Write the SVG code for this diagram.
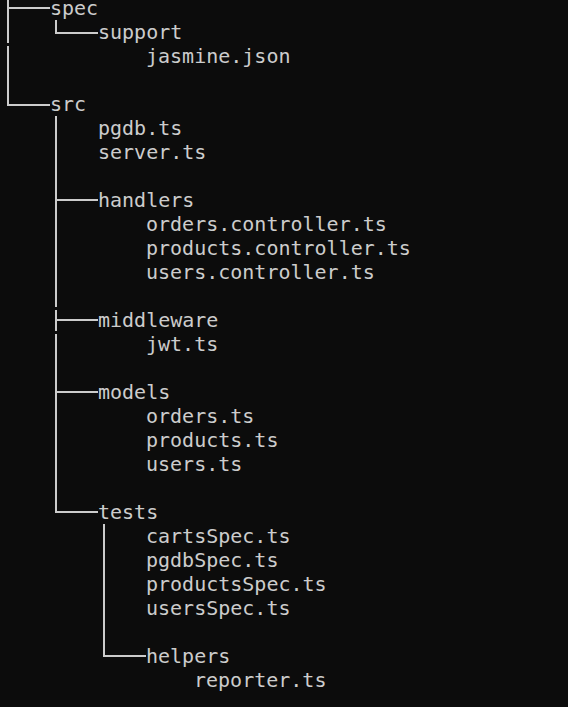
<svg xmlns="http://www.w3.org/2000/svg" width="568" height="707" viewBox="0 0 568 707">
<style>
.t{font-family:"DejaVu Sans Mono","Liberation Mono",monospace;font-size:20px;fill:#cccccc}
.c{stroke:#cccccc;stroke-width:2;fill:none}
</style>
<rect width="568" height="707" fill="#0c0c0c"/>
<g id="connectors" class="c">
<path d="M8 0V43M8 46V105H50"/>
<path d="M8 8H50"/>
<path d="M56 20V33H98"/>
<path d="M56 116V307M56 310V331M56 334V512H98"/>
<path d="M56 200H98M56 320H98M56 392H98"/>
<path d="M104 524V656H146"/>
</g>
<g id="spec"><text class="t" x="50" y="14.5">spec</text></g>
<g id="support"><text class="t" x="98" y="38.5">support</text></g>
<g id="jasmine"><text class="t" x="146" y="62.5">jasmine.json</text></g>
<g id="src"><text class="t" x="50" y="110.5">src</text></g>
<g id="pgdb"><text class="t" x="98" y="134.5">pgdb.ts</text></g>
<g id="server"><text class="t" x="98" y="158.5">server.ts</text></g>
<g id="handlers"><text class="t" x="98" y="206.5">handlers</text></g>
<g id="orders-controller"><text class="t" x="146" y="230.5">orders.controller.ts</text></g>
<g id="products-controller"><text class="t" x="146" y="254.5">products.controller.ts</text></g>
<g id="users-controller"><text class="t" x="146" y="278.5">users.controller.ts</text></g>
<g id="middleware"><text class="t" x="98" y="326.5">middleware</text></g>
<g id="jwt"><text class="t" x="146" y="350.5">jwt.ts</text></g>
<g id="models"><text class="t" x="98" y="398.5">models</text></g>
<g id="orders"><text class="t" x="146" y="422.5">orders.ts</text></g>
<g id="products"><text class="t" x="146" y="446.5">products.ts</text></g>
<g id="users"><text class="t" x="146" y="470.5">users.ts</text></g>
<g id="tests"><text class="t" x="98" y="518.5">tests</text></g>
<g id="cartsSpec"><text class="t" x="146" y="542.5">cartsSpec.ts</text></g>
<g id="pgdbSpec"><text class="t" x="146" y="566.5">pgdbSpec.ts</text></g>
<g id="productsSpec"><text class="t" x="146" y="590.5">productsSpec.ts</text></g>
<g id="usersSpec"><text class="t" x="146" y="614.5">usersSpec.ts</text></g>
<g id="helpers"><text class="t" x="146" y="662.5">helpers</text></g>
<g id="reporter"><text class="t" x="194" y="686.5">reporter.ts</text></g>
</svg>
